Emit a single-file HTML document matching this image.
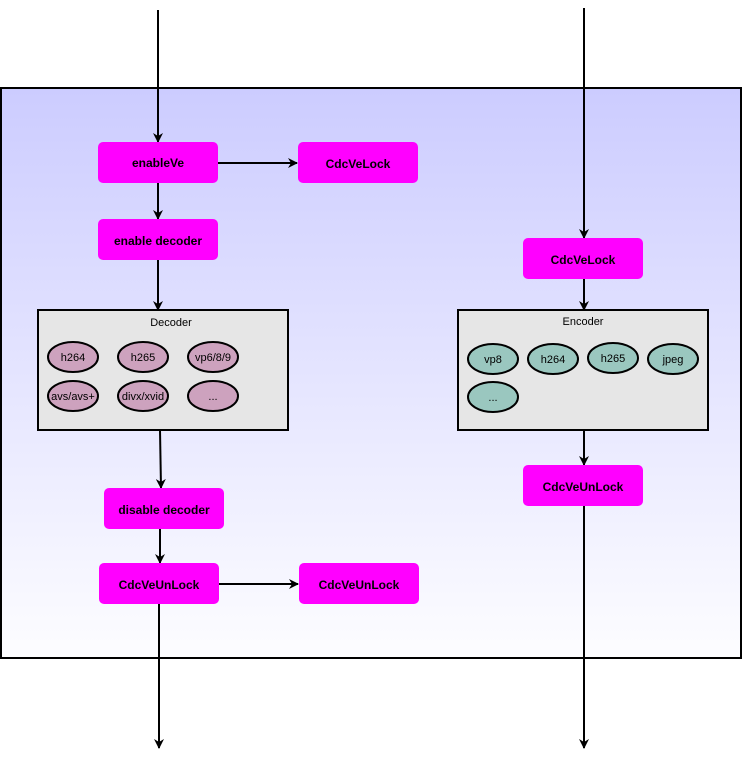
<!DOCTYPE html>
<html><head><meta charset="utf-8"><style>html,body{margin:0;padding:0;background:#fff}svg{display:block}text{font-family:"Liberation Sans",sans-serif}</style></head>
<body>
<svg width="742" height="758" viewBox="0 0 742 758" xmlns="http://www.w3.org/2000/svg">
<defs>
<linearGradient id="g" x1="0" y1="0" x2="0" y2="1"><stop offset="0" stop-color="#ccccff"/><stop offset="1" stop-color="#fdfdff"/></linearGradient>
<marker id="a" markerWidth="10" markerHeight="10" refX="9" refY="5" orient="auto" markerUnits="userSpaceOnUse"><path d="M0,0 L10,5 L0,10 L3,5 Z" fill="#000"/></marker>
</defs>
<rect x="1" y="88" width="740" height="570" fill="url(#g)" stroke="#000" stroke-width="2"/>
<g stroke="#000" stroke-width="2" fill="none" marker-end="url(#a)">
<line x1="158" y1="10" x2="158" y2="142"/>
<line x1="218" y1="163" x2="297" y2="163"/>
<line x1="158" y1="183" x2="158" y2="219"/>
<line x1="158" y1="260" x2="158" y2="310"/>
<line x1="160" y1="430" x2="161" y2="488"/>
<line x1="160" y1="529" x2="160" y2="563"/>
<line x1="219" y1="584" x2="298" y2="584"/>
<line x1="159" y1="604" x2="159" y2="748"/>
<line x1="584" y1="8" x2="584" y2="238"/>
<line x1="584" y1="279" x2="584" y2="310"/>
<line x1="584" y1="430" x2="584" y2="465"/>
<line x1="584" y1="506" x2="584" y2="748"/>
</g>
<g fill="#ff00ff">
<rect x="98" y="142" width="120" height="41" rx="5"/>
<rect x="298" y="142" width="120" height="41" rx="5"/>
<rect x="98" y="219" width="120" height="41" rx="5"/>
<rect x="104" y="488" width="120" height="41" rx="5"/>
<rect x="99" y="563" width="120" height="41" rx="5"/>
<rect x="299" y="563" width="120" height="41" rx="5"/>
<rect x="523" y="238" width="120" height="41" rx="5"/>
<rect x="523" y="465" width="120" height="41" rx="5"/>
</g>
<g font-size="12" font-weight="bold" text-anchor="middle" fill="#000">
<text x="158" y="167">enableVe</text>
<text x="358" y="168">CdcVeLock</text>
<text x="158" y="245">enable decoder</text>
<text x="164" y="514">disable decoder</text>
<text x="159" y="589">CdcVeUnLock</text>
<text x="359" y="589">CdcVeUnLock</text>
<text x="583" y="264">CdcVeLock</text>
<text x="583" y="491">CdcVeUnLock</text>
</g>
<rect x="38" y="310" width="250" height="120" fill="#e6e6e6" stroke="#000" stroke-width="2"/>
<rect x="458" y="310" width="250" height="120" fill="#e6e6e6" stroke="#000" stroke-width="2"/>
<g font-size="11" text-anchor="middle"><text x="171" y="326">Decoder</text><text x="583" y="325">Encoder</text></g>
<g fill="#cda2be" stroke="#000" stroke-width="2">
<ellipse cx="73" cy="357" rx="25" ry="15"/><ellipse cx="143" cy="357" rx="25" ry="15"/><ellipse cx="213" cy="357" rx="25" ry="15"/>
<ellipse cx="73" cy="396" rx="25" ry="15"/><ellipse cx="143" cy="396" rx="25" ry="15"/><ellipse cx="213" cy="396" rx="25" ry="15"/>
</g>
<g fill="#9ac7bf" stroke="#000" stroke-width="2">
<ellipse cx="493" cy="359" rx="25" ry="15"/><ellipse cx="553" cy="359" rx="25" ry="15"/><ellipse cx="613" cy="358" rx="25" ry="15"/><ellipse cx="673" cy="359" rx="25" ry="15"/>
<ellipse cx="493" cy="397" rx="25" ry="15"/>
</g>
<g font-size="11" text-anchor="middle" fill="#000">
<text x="73" y="361">h264</text><text x="143" y="361">h265</text><text x="213" y="361">vp6/8/9</text>
<text x="73" y="400">avs/avs+</text><text x="143" y="400">divx/xvid</text><text x="213" y="400">...</text>
<text x="493" y="363">vp8</text><text x="553" y="363">h264</text><text x="613" y="362">h265</text><text x="673" y="363">jpeg</text>
<text x="493" y="401">...</text>
</g>
</svg>
</body></html>
